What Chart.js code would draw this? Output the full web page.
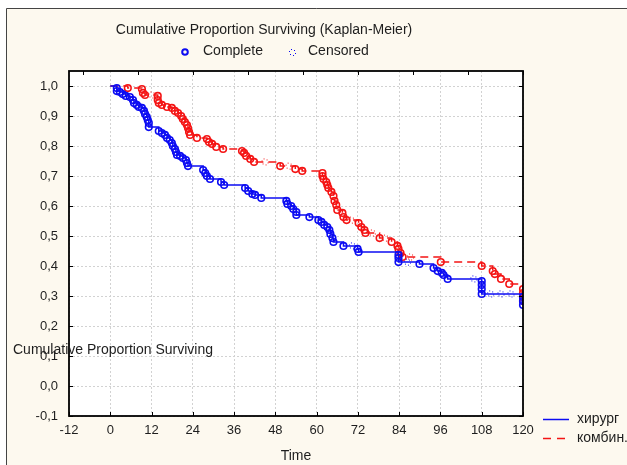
<!DOCTYPE html>
<html>
<head>
<meta charset="utf-8">
<script src="https://cdn.jsdelivr.net/npm/chart.js@4/dist/chart.umd.min.js"></script>
<style>
    body { margin: 0; background: #fff; }
    #wrap { width: 627px; height: 465px; }
</style>
</head>
<body>
<div id="wrap"><canvas id="kmChart" width="627" height="465"></canvas></div>
<script>
// хирург: times and survival at each complete case (first point is the start of the curve)
const surgTimes = [0, 1.9, 1.9, 2.8, 3.6, 4.5, 5.7, 6.6, 6.9, 7.7, 8.3, 9.2, 9.8, 10.1, 10.6, 10.9, 11.2, 11.2,
    14.1, 15.0, 15.9, 16.5, 17.3, 17.9, 18.2, 18.8, 19.1, 19.4, 20.3, 21.1, 22.0, 22.3, 22.6, 27.0, 27.6, 28.1,
    29.0, 32.2, 33.1, 39.2, 40.1, 41.3, 42.1, 43.9, 51.2, 51.5, 52.6, 53.2, 54.1, 54.1, 57.9, 60.5, 61.4, 62.2,
    63.1, 63.7, 64.0, 64.6, 64.9, 67.8, 71.9, 72.2, 83.8, 83.8, 83.8, 89.9, 94.0, 95.2, 96.4, 96.9, 98.1,
    108, 108, 108, 108, 120, 120, 120];
const surgSurv = [1, 0.993, 0.983, 0.98, 0.973, 0.967, 0.963, 0.953, 0.943, 0.937, 0.93, 0.927, 0.917, 0.907,
    0.897, 0.887, 0.877, 0.863, 0.85, 0.843, 0.837, 0.827, 0.82, 0.81, 0.80, 0.79, 0.78, 0.77, 0.767, 0.76,
    0.753, 0.743, 0.733, 0.72, 0.71, 0.70, 0.69, 0.68, 0.67, 0.66, 0.65, 0.64, 0.637, 0.627, 0.617, 0.607,
    0.60, 0.59, 0.58, 0.57, 0.563, 0.553, 0.547, 0.537, 0.53, 0.52, 0.507, 0.493, 0.48, 0.467, 0.457, 0.447,
    0.437, 0.427, 0.413, 0.407, 0.393, 0.383, 0.377, 0.37, 0.357, 0.35, 0.337, 0.323, 0.307, 0.297, 0.283, 0.27];
const surgCensTimes = [70.4, 86.4, 105.7, 110.6, 113.6, 116.5];
const surgCensSurv = [0.467, 0.413, 0.357, 0.307, 0.307, 0.307];

// комбин.
const combTimes = [0, 5.1, 9.2, 9.5, 10.1, 13.8, 13.8, 14.1, 15.0, 16.5, 17.9, 18.8, 19.7, 20.6, 21.1, 21.7,
    22.3, 22.6, 22.9, 23.2, 25.2, 28.1, 28.7, 29.6, 30.8, 32.8, 38.3, 38.9, 39.5, 40.7, 41.8, 49.4, 53.8, 55.8,
    61.7, 61.7, 62.0, 62.8, 63.1, 63.4, 64.3, 64.9, 65.2, 65.7, 66.0, 67.5, 67.8, 68.7, 72.2, 73.0, 73.9, 74.2,
    78.3, 81.8, 83.5, 83.8, 84.4, 85.0, 96.1, 108, 111.2, 111.8, 113.6, 116.0, 120, 120, 120, 120];
const combSurv = [1, 0.993, 0.99, 0.977, 0.97, 0.967, 0.953, 0.943, 0.937, 0.93, 0.927, 0.917, 0.91, 0.90,
    0.89, 0.88, 0.87, 0.86, 0.847, 0.837, 0.827, 0.823, 0.813, 0.807, 0.797, 0.79, 0.783, 0.777, 0.767, 0.757,
    0.747, 0.733, 0.723, 0.717, 0.71, 0.70, 0.69, 0.68, 0.67, 0.66, 0.647, 0.633, 0.617, 0.603, 0.587, 0.577,
    0.563, 0.553, 0.543, 0.53, 0.52, 0.51, 0.493, 0.48, 0.467, 0.457, 0.443, 0.43, 0.413, 0.40, 0.383, 0.373,
    0.357, 0.34, 0.323, 0.31, 0.297, 0.283];
const combCensTimes = [12.1, 45.0, 52.0, 70.1, 76.2, 80.0, 87.3];
const combCensSurv = [0.97, 0.747, 0.733, 0.553, 0.51, 0.493, 0.43];

const xTicks = [-12, 0, 12, 24, 36, 48, 60, 72, 84, 96, 108, 120];
const yTicks = [-0.1, 0, 0.1, 0.2, 0.3, 0.4, 0.5, 0.6, 0.7, 0.8, 0.9, 1.0];
const topTicks = [-8, 8, 24, 40, 56, 72, 88, 104, 120];

const BLUE = "#0c0cf2";
const RED = "#f41414";
const FONT = "'Liberation Sans', Arial, sans-serif";
const TEXT = "#1e1e1e";

function toPoints(xs, ys) {
    return xs.map((x, i) => ({ x, y: ys[i] }));
}

// small ring of dots used for censored cases
function dottedRing(color) {
    const c = document.createElement("canvas");
    c.width = 9;
    c.height = 9;
    const g = c.getContext("2d");
    g.fillStyle = color;
    for (let i = 0; i < 6; i++) {
        const a = i * Math.PI / 3 + 0.3;
        g.fillRect(Math.round(4 + 3 * Math.cos(a)), Math.round(4 + 3 * Math.sin(a)), 1, 1);
    }
    return c;
}

const framePlugin = {
    id: "frame",
    beforeDraw(chart) {
        const { ctx, chartArea: a } = chart;
        ctx.save();
        ctx.fillStyle = "#fff";
        ctx.fillRect(0, 0, chart.width, chart.height);
        ctx.fillStyle = "#fdf9ef";
        ctx.fillRect(6, 8, chart.width - 6, chart.height - 8);
        ctx.strokeStyle = "#444";
        ctx.lineWidth = 1;
        ctx.beginPath();
        ctx.moveTo(6.5, chart.height);
        ctx.lineTo(6.5, 8.5);
        ctx.lineTo(chart.width, 8.5);
        ctx.stroke();
        ctx.fillStyle = "#fff";
        ctx.fillRect(a.left, a.top, a.right - a.left, a.bottom - a.top);
        ctx.restore();
    },
    afterDraw(chart) {
        const { ctx, chartArea: a, scales } = chart;
        const xs = scales.x, ys = scales.y;
        ctx.save();

        // plot border + inward ticks
        ctx.strokeStyle = "#000";
        ctx.lineWidth = 1.8;
        ctx.strokeRect(a.left, a.top, a.right - a.left, a.bottom - a.top);
        ctx.lineWidth = 1;
        ctx.beginPath();
        xTicks.forEach(v => {
            const px = Math.round(xs.getPixelForValue(v)) + 0.5;
            ctx.moveTo(px, a.bottom);
            ctx.lineTo(px, a.bottom - 4);
        });
        topTicks.forEach(v => {
            const px = Math.round(xs.getPixelForValue(v)) + 0.5;
            ctx.moveTo(px, a.top);
            ctx.lineTo(px, a.top + 4);
        });
        yTicks.forEach(v => {
            const py = Math.round(ys.getPixelForValue(v)) + 0.5;
            ctx.moveTo(a.left, py);
            ctx.lineTo(a.left + 4, py);
            ctx.moveTo(a.right, py);
            ctx.lineTo(a.right - 4, py);
        });
        ctx.stroke();

        ctx.fillStyle = TEXT;
        ctx.font = "14px " + FONT;
        ctx.textBaseline = "middle";

        ctx.textAlign = "center";
        ctx.fillText("Cumulative Proportion Surviving (Kaplan-Meier)", 264, 30);

        ctx.textAlign = "left";
        ctx.fillText("Complete", 203, 51);
        ctx.fillText("Censored", 308, 51);
        ctx.fillText("Cumulative Proportion Surviving", 13, 350);
        ctx.fillText("хирург", 577, 419);
        ctx.fillText("комбин.", 577, 438);

        // marker key
        ctx.strokeStyle = BLUE;
        ctx.lineWidth = 2;
        ctx.beginPath();
        ctx.arc(185, 52, 2.8, 0, Math.PI * 2);
        ctx.stroke();
        ctx.drawImage(dottedRing(BLUE), 288, 48);

        // series key
        ctx.lineWidth = 1.5;
        ctx.beginPath();
        ctx.moveTo(543, 419.5);
        ctx.lineTo(569, 419.5);
        ctx.stroke();
        ctx.strokeStyle = RED;
        ctx.setLineDash([8, 6]);
        ctx.beginPath();
        ctx.moveTo(543, 438.5);
        ctx.lineTo(569, 438.5);
        ctx.stroke();

        ctx.restore();
    }
};

function kmLine(label, xs, ys, color, dash) {
    return {
        label,
        data: toPoints(xs, ys),
        showLine: true,
        stepped: "before",
        borderColor: color,
        borderWidth: 1.5,
        borderDash: dash,
        pointStyle: "circle",
        pointRadius: ctx => ctx.dataIndex === 0 ? 0 : 3.3,
        pointBorderWidth: 1.6,
        pointBorderColor: color,
        pointBackgroundColor: "rgba(0,0,0,0)",
        pointHoverRadius: 3.3
    };
}

function censored(label, xs, ys, color) {
    return {
        label,
        data: toPoints(xs, ys),
        showLine: false,
        pointStyle: dottedRing(color),
        pointRadius: 4
    };
}

document.addEventListener("DOMContentLoaded", () => {
    const ctx = document.getElementById("kmChart");

    new Chart(ctx, {
        type: "scatter",
        data: {
            datasets: [
                kmLine("хирург", surgTimes, surgSurv, BLUE, []),
                kmLine("комбин.", combTimes, combSurv, RED, [8, 5]),
                censored("хирург censored", surgCensTimes, surgCensSurv, BLUE),
                censored("комбин. censored", combCensTimes, combCensSurv, RED)
            ]
        },
        options: {
            responsive: false,
            animation: false,
            layout: { padding: { left: 0, right: 104, top: 71, bottom: 0 } },
            plugins: {
                legend: { display: false },
                tooltip: { enabled: false },
                title: { display: false }
            },
            scales: {
                x: {
                    type: "linear",
                    min: -12,
                    max: 120,
                    afterFit: s => { s.height = 49; },
                    afterBuildTicks: s => { s.ticks = xTicks.map(v => ({ value: v })); },
                    grid: { color: "#d2d2d2", drawTicks: false },
                    border: { display: false, dash: [2, 2] },
                    ticks: {
                        padding: 7,
                        color: TEXT,
                        font: { family: FONT, size: 13 },
                        callback: v => String(v)
                    },
                    title: {
                        display: true,
                        text: "Time",
                        color: TEXT,
                        font: { family: FONT, size: 14 },
                        padding: { top: 0, bottom: 0 }
                    }
                },
                y: {
                    type: "linear",
                    min: -0.1,
                    max: 1.05,
                    afterFit: s => { s.width = 69; },
                    afterBuildTicks: s => { s.ticks = yTicks.map(v => ({ value: v })); },
                    grid: { color: "#d2d2d2", drawTicks: false },
                    border: { display: false, dash: [2, 2] },
                    ticks: {
                        padding: 11,
                        color: TEXT,
                        font: { family: FONT, size: 13 },
                        callback: v => v.toFixed(1).replace(".", ",")
                    }
                }
            }
        },
        plugins: [framePlugin]
    });
});
</script>
</body>
</html>
